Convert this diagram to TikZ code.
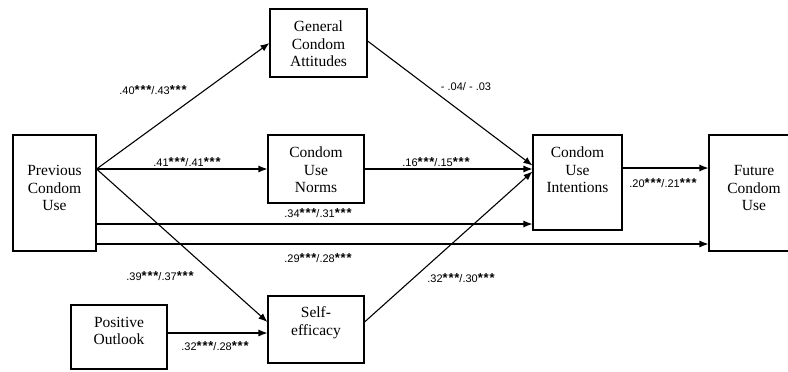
\documentclass[tikz,border=0pt]{standalone}
\usepackage{fontspec}
\setmainfont{Liberation Serif}
\newfontfamily\coeffont{Liberation Sans}
\usetikzlibrary{arrows.meta}

\tikzset{
  box/.style={draw, line width=1.1pt, inner sep=0pt},
  boxtext/.style={align=center, inner sep=0pt, font=\fontsize{15.5}{17.5}\selectfont},
  arr/.style={-{Latex[length=9pt,width=7pt]}, line width=1.1pt},
  coef/.style={font=\coeffont\fontsize{11}{13}\selectfont, inner sep=0pt}
}
\newcommand{\sig}{{\fontsize{13}{13}\selectfont\bfseries *\kern0.8pt*\kern0.8pt*}}

\begin{document}
\begin{tikzpicture}[x=1pt,y=-1pt]
  \clip (0,0) rectangle (788,372);
  \useasboundingbox (0,0) rectangle (788,372);

  %%%%%%%% Boxes %%%%%%%%
  \node[box, minimum width=83pt, minimum height=116pt,
        label={[boxtext,yshift=5pt]center:{Previous\\Condom\\Use}}] (prev) at (54.5,193) {};
  \node[box, minimum width=97pt, minimum height=68pt,
        label={[boxtext,yshift=-1pt]center:{General\\Condom\\Attitudes}}] (gca) at (318.5,43) {};
  \node[box, minimum width=96pt, minimum height=68pt,
        label={[boxtext,yshift=-1pt]center:{Condom\\Use\\Norms}}] (cun) at (316,169) {};
  \node[box, minimum width=96pt, minimum height=64pt,
        label={[boxtext,yshift=6pt]center:{Positive\\Outlook}}] (pos) at (119,337) {};
  \node[box, minimum width=96pt, minimum height=67pt,
        label={[boxtext,yshift=7pt]center:{Self-\\efficacy}}] (self) at (316,329.5) {};
  \node[box, minimum width=89pt, minimum height=95pt,
        label={[boxtext,yshift=12.5pt]center:{Condom\\Use\\Intentions}}] (cui) at (577.5,182.5) {};
  \node[box, minimum width=90pt, minimum height=116pt,
        label={[boxtext,yshift=5pt]center:{Future\\Condom\\Use}}] (fut) at (754,193) {};

  %%%%%%%% Paths %%%%%%%%
  \draw[arr] (prev.east |- cun.west) -- (gca.west);
  \draw[arr] (prev.east |- cun.west) -- (cun.west);
  \draw[arr] (prev.east |- cun.west) -- ([yshift=7.5pt]self.west);
  \draw[arr] ([yshift=-31pt]prev.east) -- ([yshift=-31pt]prev.east -| cui.west);
  \draw[arr] ([yshift=-51pt]prev.east) -- ([yshift=-51pt]prev.east -| fut.west);
  \draw[arr] ([yshift=4pt]pos.east) -- ([yshift=4pt]pos.east -| self.west);
  \draw[arr] ([yshift=2pt]gca.east) -- ([yshift=17pt]cui.west);
  \draw[arr] (cun.east) -- (cun.east -| cui.west);
  \draw[arr] ([yshift=7.5pt]self.east) -- ([yshift=11pt]cui.west);
  \draw[arr] ([yshift=14.5pt]cui.east) -- ([yshift=14.5pt]cui.east -| fut.west);

  %%%%%%%% Coefficients %%%%%%%%
  \node[coef] (c1) at (153,90) {.40\sig/.43\sig};
  \node[coef] (c2) at (187,162) {.41\sig/.41\sig};
  \node[coef] (c3) at (466,87) {- .04/ - .03};
  \node[coef] (c4) at (436,162) {.16\sig/.15\sig};
  \node[coef] (c5) at (663,183) {.20\sig/.21\sig};
  \node[coef] (c6) at (318,213) {.34\sig/.31\sig};
  \node[coef] (c7) at (318,258) {.29\sig/.28\sig};
  \node[coef] (c8) at (160,276) {.39\sig/.37\sig};
  \node[coef] (c9) at (215,346) {.32\sig/.28\sig};
  \node[coef] (c10) at (461,278) {.32\sig/.30\sig};
\end{tikzpicture}
\end{document}
